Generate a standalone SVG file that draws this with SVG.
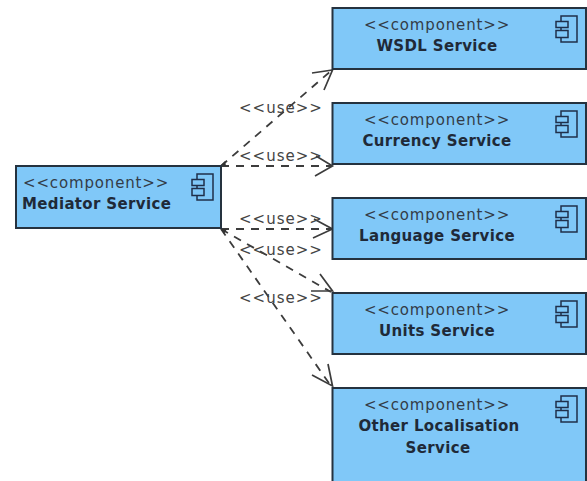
<svg xmlns="http://www.w3.org/2000/svg" width="587" height="481" viewBox="0 0 587 481">
<style>
.box{fill:#80c8f8;stroke:#25323f;stroke-width:2}
.st{font:15px "DejaVu Sans",sans-serif;fill:#333c48;letter-spacing:.85px}
.nm{font:bold 15px "DejaVu Sans",sans-serif;fill:#1f2a38;letter-spacing:.35px}
.mid{text-anchor:middle}
.ic{fill:none;stroke:#1f2f4a;stroke-width:1.5}
.dash{fill:none;stroke:#3c3c3c;stroke-width:1.8;stroke-dasharray:8 7}
.head{fill:none;stroke:#3c3c3c;stroke-width:1.7}
.use{font:15px "DejaVu Sans",sans-serif;fill:#444;letter-spacing:1px}
</style>
<defs>
<g id="icon" class="ic"><path d="M0 -6.500V-12H16V14H0V9.500M0 -0.500V2.500"/><rect x="-5" y="-6.500" width="12" height="6"/><rect x="-5" y="2.500" width="12" height="7"/></g>
</defs>
<g id="connectors">
<path class="dash" d="M221 166L332 70"/>
<path class="head" d="M312 73L332.500 70L324 90"/>
<path class="dash" d="M221 166H331"/>
<path class="head" d="M316 156L332.500 166L315 176"/>
<path class="dash" d="M221 229H331"/>
<path class="head" d="M314 219L332.500 229L313 238"/>
<path class="dash" d="M221 229L331 292"/>
<path class="head" d="M311 291H332.500L320 274"/>
<path class="dash" d="M221 229L331 386"/>
<path class="head" d="M312 375L332.500 386L328 364"/>
<path d="M221 165L225 161L226 166ZM221 229L227 229L224 234Z" fill="#333"/>
</g>
<g id="labels">
<text class="use" x="239" y="113">&lt;&lt;use&gt;&gt;</text>
<text class="use" x="239" y="161">&lt;&lt;use&gt;&gt;</text>
<text class="use" x="239" y="224">&lt;&lt;use&gt;&gt;</text>
<text class="use" x="239" y="255">&lt;&lt;use&gt;&gt;</text>
<text class="use" x="239" y="303">&lt;&lt;use&gt;&gt;</text>
</g>
<g id="mediator">
<rect class="box" x="16" y="166" width="205" height="62"/>
<text class="st" x="23" y="188">&lt;&lt;component&gt;&gt;</text>
<text class="nm" x="22" y="209">Mediator Service</text>
<use href="#icon" x="197" y="186"/>
</g>
<g id="wsdl">
<rect class="box" x="332.500" y="8" width="253.500" height="61"/>
<text class="st mid" x="437" y="30">&lt;&lt;component&gt;&gt;</text>
<text class="nm mid" x="437" y="51">WSDL Service</text>
<use href="#icon" x="561" y="28"/>
</g>
<g id="currency">
<rect class="box" x="332.500" y="103" width="253.500" height="61"/>
<text class="st mid" x="437" y="125">&lt;&lt;component&gt;&gt;</text>
<text class="nm mid" x="437" y="146">Currency Service</text>
<use href="#icon" x="561" y="123"/>
</g>
<g id="language">
<rect class="box" x="332.500" y="198" width="253.500" height="61"/>
<text class="st mid" x="437" y="220">&lt;&lt;component&gt;&gt;</text>
<text class="nm mid" x="437" y="241">Language Service</text>
<use href="#icon" x="561" y="218"/>
</g>
<g id="units">
<rect class="box" x="332.500" y="293" width="253.500" height="61"/>
<text class="st mid" x="437" y="315">&lt;&lt;component&gt;&gt;</text>
<text class="nm mid" x="437" y="336">Units Service</text>
<use href="#icon" x="561" y="313"/>
</g>
<g id="other">
<rect class="box" x="332.500" y="388" width="253.500" height="100"/>
<text class="st mid" x="437" y="410">&lt;&lt;component&gt;&gt;</text>
<text class="nm mid" x="439" y="431">Other Localisation</text>
<text class="nm mid" x="438" y="453">Service</text>
<use href="#icon" x="561" y="408"/>
</g>
</svg>
